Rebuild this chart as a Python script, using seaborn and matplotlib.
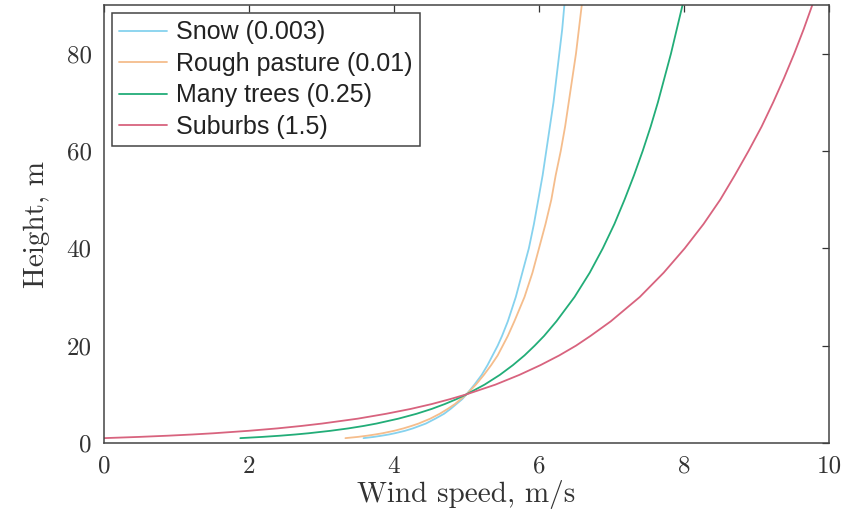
import matplotlib
matplotlib.use("Agg")
import matplotlib.pyplot as plt
import seaborn as sns
import pandas as pd

# ---- data ----
heights = [1, 1.25, 1.5, 1.75, 2, 2.5, 3, 3.5, 4, 5, 6, 7, 8, 9, 10, 12, 14, 16, 18,
           20, 22, 25, 30, 35, 40, 45, 50, 55, 60, 65, 70, 75, 80, 85, 90]
snow = [3.58, 3.72, 3.83, 3.93, 4.01, 4.15, 4.26, 4.35, 4.44, 4.57, 4.69, 4.78, 4.86,
        4.94, 5.00, 5.11, 5.21, 5.29, 5.36, 5.43, 5.49, 5.57, 5.68, 5.77, 5.86, 5.93,
        5.99, 6.05, 6.10, 6.15, 6.20, 6.24, 6.28, 6.32, 6.35]
rough_pasture = [3.33, 3.50, 3.63, 3.74, 3.84, 4.00, 4.13, 4.24, 4.34, 4.50, 4.63, 4.74,
                 4.84, 4.92, 5.00, 5.13, 5.24, 5.34, 5.43, 5.50, 5.57, 5.66, 5.80, 5.91,
                 6.00, 6.09, 6.17, 6.23, 6.30, 6.36, 6.41, 6.46, 6.51, 6.55, 6.59]
many_trees = [1.88, 2.18, 2.43, 2.64, 2.82, 3.12, 3.37, 3.58, 3.76, 4.06, 4.31, 4.52,
              4.70, 4.86, 5.00, 5.25, 5.46, 5.64, 5.80, 5.94, 6.07, 6.24, 6.49, 6.70,
              6.88, 7.04, 7.18, 7.31, 7.43, 7.54, 7.64, 7.73, 7.82, 7.90, 7.98]
suburbs = [0.00, 0.48, 0.88, 1.22, 1.51, 1.99, 2.39, 2.72, 3.01, 3.50, 3.89, 4.23, 4.52,
           4.77, 5.00, 5.40, 5.73, 6.02, 6.28, 6.51, 6.71, 6.99, 7.39, 7.72, 8.01, 8.27,
           8.50, 8.70, 8.89, 9.07, 9.23, 9.38, 9.52, 9.65, 9.77]
series_labels = ["Snow (0.003)", "Rough pasture (0.01)", "Many trees (0.25)", "Suburbs (1.5)"]
x_ticks = [0, 2, 4, 6, 8, 10]
y_ticks = [0, 20, 40, 60, 80]

colors = ["#86d2ee", "#f5bd8c", "#22ad78", "#d8637e"]

frames = []
for lab, vals in zip(series_labels, [snow, rough_pasture, many_trees, suburbs]):
    frames.append(pd.DataFrame({"speed": vals, "height": heights, "surface": lab}))
df = pd.concat(frames, ignore_index=True)

sns.set_style("white")
plt.rcParams["font.family"] = "serif"
plt.rcParams["font.serif"] = ["cmr10", "DejaVu Serif"]
plt.rcParams["axes.formatter.use_mathtext"] = True
plt.rcParams["mathtext.fontset"] = "cm"
plt.rcParams["lines.solid_joinstyle"] = "round"

fig = plt.figure(figsize=(8.47, 5.23), dpi=100)
ax = fig.add_axes([104 / 847, 1 - 443 / 523, (829 - 104) / 847, (443 - 5) / 523])

sns.lineplot(data=df, x="speed", y="height", hue="surface", palette=colors,
             hue_order=series_labels, estimator=None, sort=False, linewidth=1.3,
             ax=ax, legend=True)

ax.set_xlim(0, 10)
ax.set_ylim(0, 90)
ax.set_xticks(x_ticks)
ax.set_yticks(y_ticks)
ax.set_xticklabels([str(t) for t in x_ticks])
ax.set_yticklabels([str(t) for t in y_ticks])
ax.tick_params(axis="both", direction="in", length=5, width=0.9, color="#333333",
               labelsize=18, labelcolor="#333333", top=True, right=True, pad=9)
for s in ax.spines.values():
    s.set_visible(True)
    s.set_color("#444444")
    s.set_linewidth(1.1)

ax.set_xlabel("Wind speed, m/s", fontsize=21, color="#333333", labelpad=2)
ax.set_ylabel("Height, m", fontsize=21, color="#333333", labelpad=12)

leg = ax.legend(loc="upper left", bbox_to_anchor=(0.011, 0.982), frameon=True,
                fancybox=False, edgecolor="#444444", framealpha=1,
                prop={"family": "Liberation Sans", "size": 18},
                handlelength=1.9, handletextpad=0.35, labelspacing=0.3,
                borderpad=0.3, borderaxespad=0.0)
leg.get_frame().set_linewidth(1.1)
for t in leg.get_texts():
    t.set_color("#222222")

fig.savefig("out.png", dpi=100)
